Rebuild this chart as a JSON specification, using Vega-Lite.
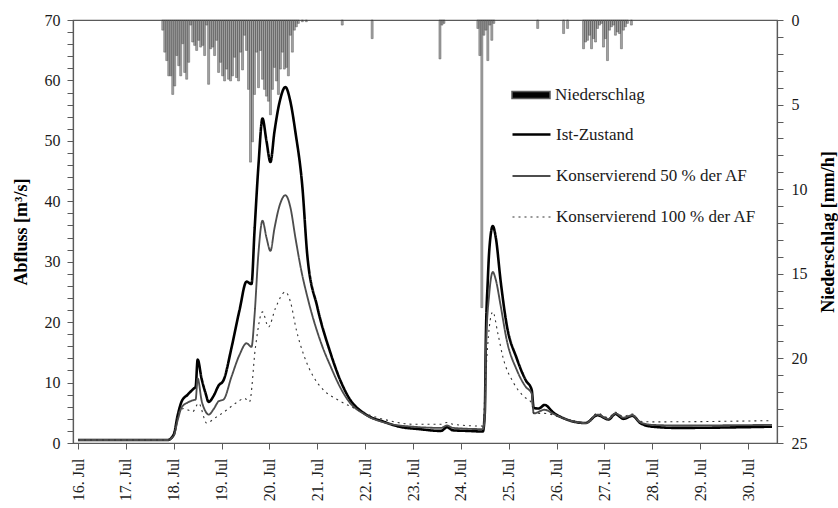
{
  "$schema": "https://vega.github.io/schema/vega-lite/v6.json",
  "width": 704,
  "height": 423,
  "autosize": {"type": "none"},
  "padding": {"left": 73, "top": 20, "right": 61, "bottom": 65},
  "background": "white",
  "datasets": {
    "rain": [
      {"t": "2021-07-17T18:30", "p": 0.6}, {"t": "2021-07-17T19:30", "p": 1.9}, {"t": "2021-07-17T20:30", "p": 2.4},
      {"t": "2021-07-17T21:30", "p": 3.3}, {"t": "2021-07-17T22:30", "p": 3.3}, {"t": "2021-07-17T23:30", "p": 4.4},
      {"t": "2021-07-18T00:30", "p": 3.9}, {"t": "2021-07-18T01:30", "p": 2.1}, {"t": "2021-07-18T02:30", "p": 2.7},
      {"t": "2021-07-18T03:30", "p": 3.3}, {"t": "2021-07-18T04:30", "p": 1.4}, {"t": "2021-07-18T05:30", "p": 3.1},
      {"t": "2021-07-18T06:30", "p": 3.5}, {"t": "2021-07-18T07:30", "p": 2.5}, {"t": "2021-07-18T08:30", "p": 0.3},
      {"t": "2021-07-18T09:30", "p": 1.3}, {"t": "2021-07-18T10:30", "p": 1.5}, {"t": "2021-07-18T11:30", "p": 1.8},
      {"t": "2021-07-18T12:30", "p": 1.2}, {"t": "2021-07-18T13:30", "p": 1.6}, {"t": "2021-07-18T14:30", "p": 1.5},
      {"t": "2021-07-18T15:30", "p": 2.1}, {"t": "2021-07-18T16:30", "p": 0.3}, {"t": "2021-07-18T17:30", "p": 3.8},
      {"t": "2021-07-18T18:30", "p": 1.7}, {"t": "2021-07-18T19:30", "p": 1.6}, {"t": "2021-07-18T20:30", "p": 2.1},
      {"t": "2021-07-18T21:30", "p": 1.2}, {"t": "2021-07-18T22:30", "p": 3.1}, {"t": "2021-07-18T23:30", "p": 2.5},
      {"t": "2021-07-19T00:30", "p": 3.3}, {"t": "2021-07-19T01:30", "p": 3.6}, {"t": "2021-07-19T02:30", "p": 2.9},
      {"t": "2021-07-19T03:30", "p": 3.5}, {"t": "2021-07-19T04:30", "p": 3.6}, {"t": "2021-07-19T05:30", "p": 3.3},
      {"t": "2021-07-19T06:30", "p": 2.2}, {"t": "2021-07-19T07:30", "p": 3.4}, {"t": "2021-07-19T08:30", "p": 3.6},
      {"t": "2021-07-19T09:30", "p": 1.9}, {"t": "2021-07-19T10:30", "p": 2.95}, {"t": "2021-07-19T11:30", "p": 0.9},
      {"t": "2021-07-19T12:30", "p": 1.8}, {"t": "2021-07-19T13:30", "p": 4.1}, {"t": "2021-07-19T14:30", "p": 8.4},
      {"t": "2021-07-19T15:30", "p": 7.2}, {"t": "2021-07-19T16:30", "p": 4.4}, {"t": "2021-07-19T17:30", "p": 1.9},
      {"t": "2021-07-19T18:30", "p": 4.0}, {"t": "2021-07-19T19:30", "p": 1.8}, {"t": "2021-07-19T20:30", "p": 3.5},
      {"t": "2021-07-19T21:30", "p": 4.1}, {"t": "2021-07-19T22:30", "p": 4.5}, {"t": "2021-07-19T23:30", "p": 4.8},
      {"t": "2021-07-20T00:30", "p": 5.6}, {"t": "2021-07-20T01:30", "p": 4.1}, {"t": "2021-07-20T02:30", "p": 2.8},
      {"t": "2021-07-20T03:30", "p": 3.6}, {"t": "2021-07-20T04:30", "p": 4.4}, {"t": "2021-07-20T05:30", "p": 2.9},
      {"t": "2021-07-20T06:30", "p": 1.9}, {"t": "2021-07-20T07:30", "p": 2.9}, {"t": "2021-07-20T08:30", "p": 2.8},
      {"t": "2021-07-20T09:30", "p": 3.3}, {"t": "2021-07-20T10:30", "p": 0.9}, {"t": "2021-07-20T11:30", "p": 1.9},
      {"t": "2021-07-20T12:30", "p": 0.6}, {"t": "2021-07-20T13:30", "p": 0.4}, {"t": "2021-07-20T14:30", "p": 0.2},
      {"t": "2021-07-20T16:30", "p": 0.1}, {"t": "2021-07-20T18:30", "p": 0.1},
      {"t": "2021-07-21T12:30", "p": 0.3},
      {"t": "2021-07-22T03:30", "p": 1.1},
      {"t": "2021-07-23T13:30", "p": 2.3}, {"t": "2021-07-23T14:30", "p": 0.3}, {"t": "2021-07-23T15:30", "p": 0.2},
      {"t": "2021-07-24T08:30", "p": 0.5}, {"t": "2021-07-24T09:30", "p": 2.1}, {"t": "2021-07-24T10:30", "p": 17.0},
      {"t": "2021-07-24T11:30", "p": 0.9}, {"t": "2021-07-24T12:30", "p": 0.6}, {"t": "2021-07-24T13:30", "p": 2.4},
      {"t": "2021-07-24T14:30", "p": 0.3}, {"t": "2021-07-24T15:30", "p": 1.2}, {"t": "2021-07-24T16:30", "p": 0.2},
      {"t": "2021-07-25T14:30", "p": 0.5},
      {"t": "2021-07-26T03:30", "p": 0.8}, {"t": "2021-07-26T05:30", "p": 0.5},
      {"t": "2021-07-26T13:30", "p": 1.7}, {"t": "2021-07-26T14:30", "p": 1.3}, {"t": "2021-07-26T15:30", "p": 1.2},
      {"t": "2021-07-26T16:30", "p": 0.9}, {"t": "2021-07-26T17:30", "p": 1.7}, {"t": "2021-07-26T18:30", "p": 1.1},
      {"t": "2021-07-26T19:30", "p": 1.3}, {"t": "2021-07-26T20:30", "p": 0.5}, {"t": "2021-07-26T21:30", "p": 0.3},
      {"t": "2021-07-26T22:30", "p": 0.2}, {"t": "2021-07-26T23:30", "p": 1.6}, {"t": "2021-07-27T00:30", "p": 1.1},
      {"t": "2021-07-27T01:30", "p": 2.4}, {"t": "2021-07-27T02:30", "p": 0.6}, {"t": "2021-07-27T03:30", "p": 0.4},
      {"t": "2021-07-27T04:30", "p": 0.3}, {"t": "2021-07-27T05:30", "p": 0.9}, {"t": "2021-07-27T06:30", "p": 0.7},
      {"t": "2021-07-27T07:30", "p": 0.8}, {"t": "2021-07-27T08:30", "p": 1.7}, {"t": "2021-07-27T09:30", "p": 0.6},
      {"t": "2021-07-27T10:30", "p": 0.4}, {"t": "2021-07-27T11:30", "p": 0.2}, {"t": "2021-07-27T13:30", "p": 0.3}
    ],
    "flow": [
      {"s": "Ist-Zustand", "t": "2021-07-16T00:00", "q": 0.5},
      {"s": "Ist-Zustand", "t": "2021-07-17T21:00", "q": 0.5},
      {"s": "Ist-Zustand", "t": "2021-07-18T00:00", "q": 1.4},
      {"s": "Ist-Zustand", "t": "2021-07-18T02:00", "q": 4.6},
      {"s": "Ist-Zustand", "t": "2021-07-18T04:00", "q": 6.9},
      {"s": "Ist-Zustand", "t": "2021-07-18T07:00", "q": 8.0},
      {"s": "Ist-Zustand", "t": "2021-07-18T10:00", "q": 9.0},
      {"s": "Ist-Zustand", "t": "2021-07-18T11:00", "q": 9.3},
      {"s": "Ist-Zustand", "t": "2021-07-18T12:00", "q": 13.8},
      {"s": "Ist-Zustand", "t": "2021-07-18T14:00", "q": 10.6},
      {"s": "Ist-Zustand", "t": "2021-07-18T16:00", "q": 8.2},
      {"s": "Ist-Zustand", "t": "2021-07-18T17:30", "q": 6.8},
      {"s": "Ist-Zustand", "t": "2021-07-18T20:00", "q": 7.8},
      {"s": "Ist-Zustand", "t": "2021-07-18T22:30", "q": 9.5},
      {"s": "Ist-Zustand", "t": "2021-07-19T01:00", "q": 10.4},
      {"s": "Ist-Zustand", "t": "2021-07-19T05:00", "q": 15.8},
      {"s": "Ist-Zustand", "t": "2021-07-19T09:00", "q": 22.0},
      {"s": "Ist-Zustand", "t": "2021-07-19T12:30", "q": 26.7},
      {"s": "Ist-Zustand", "t": "2021-07-19T15:00", "q": 26.3},
      {"s": "Ist-Zustand", "t": "2021-07-19T16:30", "q": 35.0},
      {"s": "Ist-Zustand", "t": "2021-07-19T18:30", "q": 46.0},
      {"s": "Ist-Zustand", "t": "2021-07-19T20:30", "q": 53.7},
      {"s": "Ist-Zustand", "t": "2021-07-19T22:30", "q": 50.0},
      {"s": "Ist-Zustand", "t": "2021-07-20T00:30", "q": 46.5},
      {"s": "Ist-Zustand", "t": "2021-07-20T02:30", "q": 51.5},
      {"s": "Ist-Zustand", "t": "2021-07-20T05:00", "q": 56.3},
      {"s": "Ist-Zustand", "t": "2021-07-20T08:00", "q": 58.9},
      {"s": "Ist-Zustand", "t": "2021-07-20T10:30", "q": 56.5},
      {"s": "Ist-Zustand", "t": "2021-07-20T13:00", "q": 51.5},
      {"s": "Ist-Zustand", "t": "2021-07-20T16:30", "q": 42.4},
      {"s": "Ist-Zustand", "t": "2021-07-20T19:00", "q": 31.0},
      {"s": "Ist-Zustand", "t": "2021-07-21T00:00", "q": 22.5},
      {"s": "Ist-Zustand", "t": "2021-07-21T06:30", "q": 15.0},
      {"s": "Ist-Zustand", "t": "2021-07-21T11:30", "q": 10.4},
      {"s": "Ist-Zustand", "t": "2021-07-21T16:00", "q": 7.4},
      {"s": "Ist-Zustand", "t": "2021-07-22T00:00", "q": 4.8},
      {"s": "Ist-Zustand", "t": "2021-07-22T09:30", "q": 3.5},
      {"s": "Ist-Zustand", "t": "2021-07-22T17:00", "q": 2.7},
      {"s": "Ist-Zustand", "t": "2021-07-23T03:00", "q": 2.3},
      {"s": "Ist-Zustand", "t": "2021-07-23T14:00", "q": 2.0},
      {"s": "Ist-Zustand", "t": "2021-07-23T17:00", "q": 2.6},
      {"s": "Ist-Zustand", "t": "2021-07-23T20:00", "q": 2.1},
      {"s": "Ist-Zustand", "t": "2021-07-24T03:30", "q": 2.0},
      {"s": "Ist-Zustand", "t": "2021-07-24T11:00", "q": 1.9},
      {"s": "Ist-Zustand", "t": "2021-07-24T12:00", "q": 5.0},
      {"s": "Ist-Zustand", "t": "2021-07-24T12:30", "q": 17.0},
      {"s": "Ist-Zustand", "t": "2021-07-24T13:30", "q": 27.0},
      {"s": "Ist-Zustand", "t": "2021-07-24T14:15", "q": 32.0},
      {"s": "Ist-Zustand", "t": "2021-07-24T16:00", "q": 35.9},
      {"s": "Ist-Zustand", "t": "2021-07-24T17:30", "q": 34.0},
      {"s": "Ist-Zustand", "t": "2021-07-24T20:00", "q": 26.6},
      {"s": "Ist-Zustand", "t": "2021-07-24T23:00", "q": 19.5},
      {"s": "Ist-Zustand", "t": "2021-07-25T04:00", "q": 14.0},
      {"s": "Ist-Zustand", "t": "2021-07-25T08:30", "q": 10.4},
      {"s": "Ist-Zustand", "t": "2021-07-25T11:30", "q": 8.8},
      {"s": "Ist-Zustand", "t": "2021-07-25T12:30", "q": 5.8},
      {"s": "Ist-Zustand", "t": "2021-07-25T15:00", "q": 5.7},
      {"s": "Ist-Zustand", "t": "2021-07-25T18:00", "q": 6.3},
      {"s": "Ist-Zustand", "t": "2021-07-25T22:30", "q": 5.0},
      {"s": "Ist-Zustand", "t": "2021-07-26T05:00", "q": 3.9},
      {"s": "Ist-Zustand", "t": "2021-07-26T14:30", "q": 3.3},
      {"s": "Ist-Zustand", "t": "2021-07-26T20:30", "q": 4.6},
      {"s": "Ist-Zustand", "t": "2021-07-27T02:00", "q": 3.9},
      {"s": "Ist-Zustand", "t": "2021-07-27T05:30", "q": 4.8},
      {"s": "Ist-Zustand", "t": "2021-07-27T09:30", "q": 4.0},
      {"s": "Ist-Zustand", "t": "2021-07-27T14:00", "q": 4.5},
      {"s": "Ist-Zustand", "t": "2021-07-27T18:00", "q": 3.3},
      {"s": "Ist-Zustand", "t": "2021-07-28T00:00", "q": 2.7},
      {"s": "Ist-Zustand", "t": "2021-07-28T12:00", "q": 2.5},
      {"s": "Ist-Zustand", "t": "2021-07-30T12:00", "q": 2.7},

      {"s": "Konservierend 50 % der AF", "t": "2021-07-16T00:00", "q": 0.5},
      {"s": "Konservierend 50 % der AF", "t": "2021-07-17T21:00", "q": 0.5},
      {"s": "Konservierend 50 % der AF", "t": "2021-07-18T00:00", "q": 1.2},
      {"s": "Konservierend 50 % der AF", "t": "2021-07-18T02:00", "q": 3.8},
      {"s": "Konservierend 50 % der AF", "t": "2021-07-18T04:00", "q": 5.9},
      {"s": "Konservierend 50 % der AF", "t": "2021-07-18T07:00", "q": 6.7},
      {"s": "Konservierend 50 % der AF", "t": "2021-07-18T10:00", "q": 7.1},
      {"s": "Konservierend 50 % der AF", "t": "2021-07-18T11:00", "q": 7.2},
      {"s": "Konservierend 50 % der AF", "t": "2021-07-18T12:00", "q": 10.7},
      {"s": "Konservierend 50 % der AF", "t": "2021-07-18T14:00", "q": 7.0},
      {"s": "Konservierend 50 % der AF", "t": "2021-07-18T16:00", "q": 5.2},
      {"s": "Konservierend 50 % der AF", "t": "2021-07-18T17:30", "q": 4.7},
      {"s": "Konservierend 50 % der AF", "t": "2021-07-18T20:00", "q": 5.6},
      {"s": "Konservierend 50 % der AF", "t": "2021-07-18T22:30", "q": 6.9},
      {"s": "Konservierend 50 % der AF", "t": "2021-07-19T01:00", "q": 7.2},
      {"s": "Konservierend 50 % der AF", "t": "2021-07-19T05:00", "q": 11.0},
      {"s": "Konservierend 50 % der AF", "t": "2021-07-19T09:00", "q": 14.6},
      {"s": "Konservierend 50 % der AF", "t": "2021-07-19T12:30", "q": 16.5},
      {"s": "Konservierend 50 % der AF", "t": "2021-07-19T15:00", "q": 15.9},
      {"s": "Konservierend 50 % der AF", "t": "2021-07-19T16:30", "q": 21.0},
      {"s": "Konservierend 50 % der AF", "t": "2021-07-19T18:30", "q": 31.5},
      {"s": "Konservierend 50 % der AF", "t": "2021-07-19T20:30", "q": 36.8},
      {"s": "Konservierend 50 % der AF", "t": "2021-07-19T22:30", "q": 34.0},
      {"s": "Konservierend 50 % der AF", "t": "2021-07-20T00:30", "q": 31.8},
      {"s": "Konservierend 50 % der AF", "t": "2021-07-20T02:30", "q": 35.5},
      {"s": "Konservierend 50 % der AF", "t": "2021-07-20T05:00", "q": 39.2},
      {"s": "Konservierend 50 % der AF", "t": "2021-07-20T08:00", "q": 41.0},
      {"s": "Konservierend 50 % der AF", "t": "2021-07-20T10:30", "q": 39.0},
      {"s": "Konservierend 50 % der AF", "t": "2021-07-20T13:00", "q": 34.0},
      {"s": "Konservierend 50 % der AF", "t": "2021-07-20T16:00", "q": 28.5},
      {"s": "Konservierend 50 % der AF", "t": "2021-07-20T19:00", "q": 24.2},
      {"s": "Konservierend 50 % der AF", "t": "2021-07-21T02:30", "q": 16.0},
      {"s": "Konservierend 50 % der AF", "t": "2021-07-21T06:30", "q": 12.8},
      {"s": "Konservierend 50 % der AF", "t": "2021-07-21T11:30", "q": 9.2},
      {"s": "Konservierend 50 % der AF", "t": "2021-07-21T16:00", "q": 6.8},
      {"s": "Konservierend 50 % der AF", "t": "2021-07-22T00:00", "q": 4.7},
      {"s": "Konservierend 50 % der AF", "t": "2021-07-22T12:00", "q": 3.2},
      {"s": "Konservierend 50 % der AF", "t": "2021-07-23T00:00", "q": 2.7},
      {"s": "Konservierend 50 % der AF", "t": "2021-07-23T14:00", "q": 2.5},
      {"s": "Konservierend 50 % der AF", "t": "2021-07-23T17:00", "q": 2.9},
      {"s": "Konservierend 50 % der AF", "t": "2021-07-23T20:00", "q": 2.5},
      {"s": "Konservierend 50 % der AF", "t": "2021-07-24T11:00", "q": 2.3},
      {"s": "Konservierend 50 % der AF", "t": "2021-07-24T12:00", "q": 4.5},
      {"s": "Konservierend 50 % der AF", "t": "2021-07-24T12:30", "q": 15.0},
      {"s": "Konservierend 50 % der AF", "t": "2021-07-24T14:15", "q": 24.8},
      {"s": "Konservierend 50 % der AF", "t": "2021-07-24T16:00", "q": 28.3},
      {"s": "Konservierend 50 % der AF", "t": "2021-07-24T17:30", "q": 27.0},
      {"s": "Konservierend 50 % der AF", "t": "2021-07-24T20:00", "q": 22.6},
      {"s": "Konservierend 50 % der AF", "t": "2021-07-24T23:00", "q": 17.0},
      {"s": "Konservierend 50 % der AF", "t": "2021-07-25T04:00", "q": 12.1},
      {"s": "Konservierend 50 % der AF", "t": "2021-07-25T08:30", "q": 9.3},
      {"s": "Konservierend 50 % der AF", "t": "2021-07-25T11:30", "q": 8.2},
      {"s": "Konservierend 50 % der AF", "t": "2021-07-25T12:30", "q": 4.9},
      {"s": "Konservierend 50 % der AF", "t": "2021-07-25T18:00", "q": 5.5},
      {"s": "Konservierend 50 % der AF", "t": "2021-07-25T22:30", "q": 4.8},
      {"s": "Konservierend 50 % der AF", "t": "2021-07-26T05:00", "q": 3.9},
      {"s": "Konservierend 50 % der AF", "t": "2021-07-26T14:30", "q": 3.3},
      {"s": "Konservierend 50 % der AF", "t": "2021-07-26T20:30", "q": 4.7},
      {"s": "Konservierend 50 % der AF", "t": "2021-07-27T02:00", "q": 4.0},
      {"s": "Konservierend 50 % der AF", "t": "2021-07-27T05:30", "q": 4.9},
      {"s": "Konservierend 50 % der AF", "t": "2021-07-27T09:30", "q": 4.2},
      {"s": "Konservierend 50 % der AF", "t": "2021-07-27T14:00", "q": 4.6},
      {"s": "Konservierend 50 % der AF", "t": "2021-07-27T18:00", "q": 3.4},
      {"s": "Konservierend 50 % der AF", "t": "2021-07-28T00:00", "q": 3.0},
      {"s": "Konservierend 50 % der AF", "t": "2021-07-28T12:00", "q": 2.9},
      {"s": "Konservierend 50 % der AF", "t": "2021-07-30T12:00", "q": 3.0},

      {"s": "Konservierend 100 % der AF", "t": "2021-07-16T00:00", "q": 0.5},
      {"s": "Konservierend 100 % der AF", "t": "2021-07-17T21:00", "q": 0.5},
      {"s": "Konservierend 100 % der AF", "t": "2021-07-18T00:00", "q": 1.2},
      {"s": "Konservierend 100 % der AF", "t": "2021-07-18T02:30", "q": 5.2},
      {"s": "Konservierend 100 % der AF", "t": "2021-07-18T05:00", "q": 5.7},
      {"s": "Konservierend 100 % der AF", "t": "2021-07-18T09:30", "q": 5.2},
      {"s": "Konservierend 100 % der AF", "t": "2021-07-18T12:30", "q": 6.6},
      {"s": "Konservierend 100 % der AF", "t": "2021-07-18T16:30", "q": 3.3},
      {"s": "Konservierend 100 % der AF", "t": "2021-07-18T20:30", "q": 4.1},
      {"s": "Konservierend 100 % der AF", "t": "2021-07-19T01:30", "q": 5.2},
      {"s": "Konservierend 100 % der AF", "t": "2021-07-19T08:00", "q": 6.8},
      {"s": "Konservierend 100 % der AF", "t": "2021-07-19T11:30", "q": 7.4},
      {"s": "Konservierend 100 % der AF", "t": "2021-07-19T14:00", "q": 6.8},
      {"s": "Konservierend 100 % der AF", "t": "2021-07-19T17:00", "q": 15.9},
      {"s": "Konservierend 100 % der AF", "t": "2021-07-19T20:30", "q": 21.7},
      {"s": "Konservierend 100 % der AF", "t": "2021-07-19T23:30", "q": 19.2},
      {"s": "Konservierend 100 % der AF", "t": "2021-07-20T03:00", "q": 22.3},
      {"s": "Konservierend 100 % der AF", "t": "2021-07-20T08:00", "q": 25.0},
      {"s": "Konservierend 100 % der AF", "t": "2021-07-20T10:30", "q": 23.4},
      {"s": "Konservierend 100 % der AF", "t": "2021-07-20T13:30", "q": 18.7},
      {"s": "Konservierend 100 % der AF", "t": "2021-07-20T17:30", "q": 14.3},
      {"s": "Konservierend 100 % der AF", "t": "2021-07-20T22:00", "q": 11.0},
      {"s": "Konservierend 100 % der AF", "t": "2021-07-21T03:00", "q": 8.8},
      {"s": "Konservierend 100 % der AF", "t": "2021-07-21T10:30", "q": 7.1},
      {"s": "Konservierend 100 % der AF", "t": "2021-07-21T17:00", "q": 6.0},
      {"s": "Konservierend 100 % der AF", "t": "2021-07-22T00:00", "q": 4.9},
      {"s": "Konservierend 100 % der AF", "t": "2021-07-22T12:00", "q": 3.7},
      {"s": "Konservierend 100 % der AF", "t": "2021-07-23T00:00", "q": 3.1},
      {"s": "Konservierend 100 % der AF", "t": "2021-07-23T14:00", "q": 3.1},
      {"s": "Konservierend 100 % der AF", "t": "2021-07-23T17:00", "q": 3.4},
      {"s": "Konservierend 100 % der AF", "t": "2021-07-23T20:00", "q": 3.1},
      {"s": "Konservierend 100 % der AF", "t": "2021-07-24T11:00", "q": 2.8},
      {"s": "Konservierend 100 % der AF", "t": "2021-07-24T12:30", "q": 11.5},
      {"s": "Konservierend 100 % der AF", "t": "2021-07-24T14:15", "q": 19.2},
      {"s": "Konservierend 100 % der AF", "t": "2021-07-24T16:00", "q": 21.7},
      {"s": "Konservierend 100 % der AF", "t": "2021-07-24T18:30", "q": 18.2},
      {"s": "Konservierend 100 % der AF", "t": "2021-07-24T21:00", "q": 14.3},
      {"s": "Konservierend 100 % der AF", "t": "2021-07-25T02:30", "q": 9.9},
      {"s": "Konservierend 100 % der AF", "t": "2021-07-25T07:30", "q": 7.7},
      {"s": "Konservierend 100 % der AF", "t": "2021-07-25T11:30", "q": 6.6},
      {"s": "Konservierend 100 % der AF", "t": "2021-07-25T12:30", "q": 4.9},
      {"s": "Konservierend 100 % der AF", "t": "2021-07-25T18:00", "q": 4.9},
      {"s": "Konservierend 100 % der AF", "t": "2021-07-26T05:00", "q": 3.9},
      {"s": "Konservierend 100 % der AF", "t": "2021-07-26T14:30", "q": 3.4},
      {"s": "Konservierend 100 % der AF", "t": "2021-07-26T20:30", "q": 4.9},
      {"s": "Konservierend 100 % der AF", "t": "2021-07-27T02:00", "q": 4.2},
      {"s": "Konservierend 100 % der AF", "t": "2021-07-27T05:30", "q": 5.1},
      {"s": "Konservierend 100 % der AF", "t": "2021-07-27T09:30", "q": 4.4},
      {"s": "Konservierend 100 % der AF", "t": "2021-07-27T14:00", "q": 4.8},
      {"s": "Konservierend 100 % der AF", "t": "2021-07-27T18:00", "q": 3.6},
      {"s": "Konservierend 100 % der AF", "t": "2021-07-28T00:00", "q": 3.5},
      {"s": "Konservierend 100 % der AF", "t": "2021-07-30T12:00", "q": 3.7}
    ]
  },
  "layer": [
    {
      "data": {"name": "rain"},
      "mark": {"type": "bar", "width": 2, "fillOpacity": 0.36, "stroke": "#5a5a5a", "strokeWidth": 0.5},
      "encoding": {
        "x": {
          "field": "t",
          "type": "temporal",
          "title": null,
          "scale": {
            "domain": [
              {"year": 2021, "month": 7, "date": 16},
              {"year": 2021, "month": 7, "date": 30, "hours": 12}
            ],
            "nice": false
          },
          "axis": {
            "orient": "bottom",
            "values": [
              {"year": 2021, "month": 7, "date": 16, "hours": 0}, {"year": 2021, "month": 7, "date": 16, "hours": 12},
              {"year": 2021, "month": 7, "date": 17, "hours": 0}, {"year": 2021, "month": 7, "date": 17, "hours": 12},
              {"year": 2021, "month": 7, "date": 18, "hours": 0}, {"year": 2021, "month": 7, "date": 18, "hours": 12},
              {"year": 2021, "month": 7, "date": 19, "hours": 0}, {"year": 2021, "month": 7, "date": 19, "hours": 12},
              {"year": 2021, "month": 7, "date": 20, "hours": 0}, {"year": 2021, "month": 7, "date": 20, "hours": 12},
              {"year": 2021, "month": 7, "date": 21, "hours": 0}, {"year": 2021, "month": 7, "date": 21, "hours": 12},
              {"year": 2021, "month": 7, "date": 22, "hours": 0}, {"year": 2021, "month": 7, "date": 22, "hours": 12},
              {"year": 2021, "month": 7, "date": 23, "hours": 0}, {"year": 2021, "month": 7, "date": 23, "hours": 12},
              {"year": 2021, "month": 7, "date": 24, "hours": 0}, {"year": 2021, "month": 7, "date": 24, "hours": 12},
              {"year": 2021, "month": 7, "date": 25, "hours": 0}, {"year": 2021, "month": 7, "date": 25, "hours": 12},
              {"year": 2021, "month": 7, "date": 26, "hours": 0}, {"year": 2021, "month": 7, "date": 26, "hours": 12},
              {"year": 2021, "month": 7, "date": 27, "hours": 0}, {"year": 2021, "month": 7, "date": 27, "hours": 12},
              {"year": 2021, "month": 7, "date": 28, "hours": 0}, {"year": 2021, "month": 7, "date": 28, "hours": 12},
              {"year": 2021, "month": 7, "date": 29, "hours": 0}, {"year": 2021, "month": 7, "date": 29, "hours": 12},
              {"year": 2021, "month": 7, "date": 30, "hours": 0}
            ],
            "labelExpr": "hours(datum.value) == 0 ? timeFormat(datum.value, '%d. %b') : ''",
            "labelAngle": -90,
            "labelOverlap": false,
            "labelPadding": 9,
            "tickSize": 6
          }
        },
        "y": {
          "field": "p",
          "type": "quantitative",
          "stack": null,
          "scale": {"domain": [0, 25], "reverse": true, "nice": false},
          "axis": {
            "orient": "right",
            "title": "Niederschlag [mm/h]",
            "values": [0, 1, 2, 3, 4, 5, 6, 7, 8, 9, 10, 11, 12, 13, 14, 15, 16, 17, 18, 19, 20, 21, 22, 23, 24, 25],
            "labelExpr": "datum.value % 5 == 0 ? datum.label : ''",
            "titleAngle": 270,
            "titleBaseline": "top",
            "titlePadding": 12,
            "labelPadding": 8,
            "tickSize": 6
          }
        },
        "fill": {
          "datum": "Niederschlag",
          "type": "nominal",
          "scale": {"range": ["#000000"]},
          "legend": {
            "title": null,
            "orient": "none",
            "legendX": 438,
            "legendY": 55,
            "symbolType": "M-1,-0.19H1V0.19H-1Z",
            "symbolSize": 1444,
            "symbolOpacity": 1,
            "symbolFillColor": "#000000",
            "labelFontSize": 17,
            "labelOffset": 4
          }
        }
      }
    },
    {
      "data": {"name": "flow"},
      "mark": {"type": "line", "interpolate": "monotone"},
      "encoding": {
        "x": {"field": "t", "type": "temporal"},
        "y": {
          "field": "q",
          "type": "quantitative",
          "scale": {"domain": [0, 70], "nice": false},
          "axis": {
            "orient": "left",
            "title": "Abfluss [m³/s]",
            "values": [0, 2, 4, 6, 8, 10, 12, 14, 16, 18, 20, 22, 24, 26, 28, 30, 32, 34, 36, 38, 40, 42, 44, 46, 48, 50, 52, 54, 56, 58, 60, 62, 64, 66, 68, 70],
            "labelExpr": "datum.value % 10 == 0 ? datum.label : ''",
            "titlePadding": 14,
            "labelPadding": 7,
            "tickSize": 6
          }
        },
        "stroke": {
          "field": "s",
          "type": "nominal",
          "scale": {
            "domain": ["Ist-Zustand", "Konservierend 50 % der AF", "Konservierend 100 % der AF"],
            "range": ["#000000", "#4d4d4d", "#333333"]
          },
          "legend": {
            "title": null,
            "orient": "none",
            "legendX": 438,
            "legendY": 94,
            "symbolType": "stroke",
            "symbolSize": 1444,
            "labelFontSize": 17,
            "labelOffset": 4,
            "rowPadding": 13
          }
        },
        "strokeDash": {
          "field": "s",
          "type": "nominal",
          "scale": {
            "domain": ["Ist-Zustand", "Konservierend 50 % der AF", "Konservierend 100 % der AF"],
            "range": [[1, 0], [1, 0], [2, 4]]
          },
          "legend": {
            "title": null,
            "orient": "none",
            "legendX": 438,
            "legendY": 94,
            "symbolType": "stroke",
            "symbolSize": 1444,
            "labelFontSize": 17,
            "labelOffset": 4,
            "rowPadding": 13
          }
        },
        "strokeWidth": {
          "field": "s",
          "type": "ordinal",
          "scale": {
            "domain": ["Ist-Zustand", "Konservierend 50 % der AF", "Konservierend 100 % der AF"],
            "range": [2.6, 1.1, 1.7]
          },
          "legend": {
            "title": null,
            "orient": "none",
            "legendX": 438,
            "legendY": 94,
            "symbolType": "stroke",
            "symbolSize": 1444,
            "labelFontSize": 17,
            "labelOffset": 4,
            "rowPadding": 13
          }
        }
      }
    }
  ],
  "resolve": {"scale": {"y": "independent"}, "axis": {"y": "independent"}},
  "config": {
    "font": "Liberation Serif, Tinos, Times New Roman, DejaVu Serif, serif",
    "view": {"stroke": "#5a5a5a", "strokeWidth": 1.2},
    "axis": {
      "grid": false,
      "domainColor": "#5a5a5a",
      "domainWidth": 1.2,
      "tickColor": "#5a5a5a",
      "tickWidth": 1,
      "labelFont": "Liberation Serif, Tinos, Times New Roman, DejaVu Serif, serif",
      "labelFontSize": 16,
      "labelColor": "#1a1a1a",
      "titleFont": "Liberation Serif, Tinos, Times New Roman, DejaVu Serif, serif",
      "titleFontSize": 18,
      "titleFontWeight": "bold",
      "titleColor": "#000000"
    },
    "legend": {
      "labelFont": "Liberation Serif, Tinos, Times New Roman, DejaVu Serif, serif",
      "labelColor": "#1a1a1a",
      "labelLimit": 400
    }
  }
}
